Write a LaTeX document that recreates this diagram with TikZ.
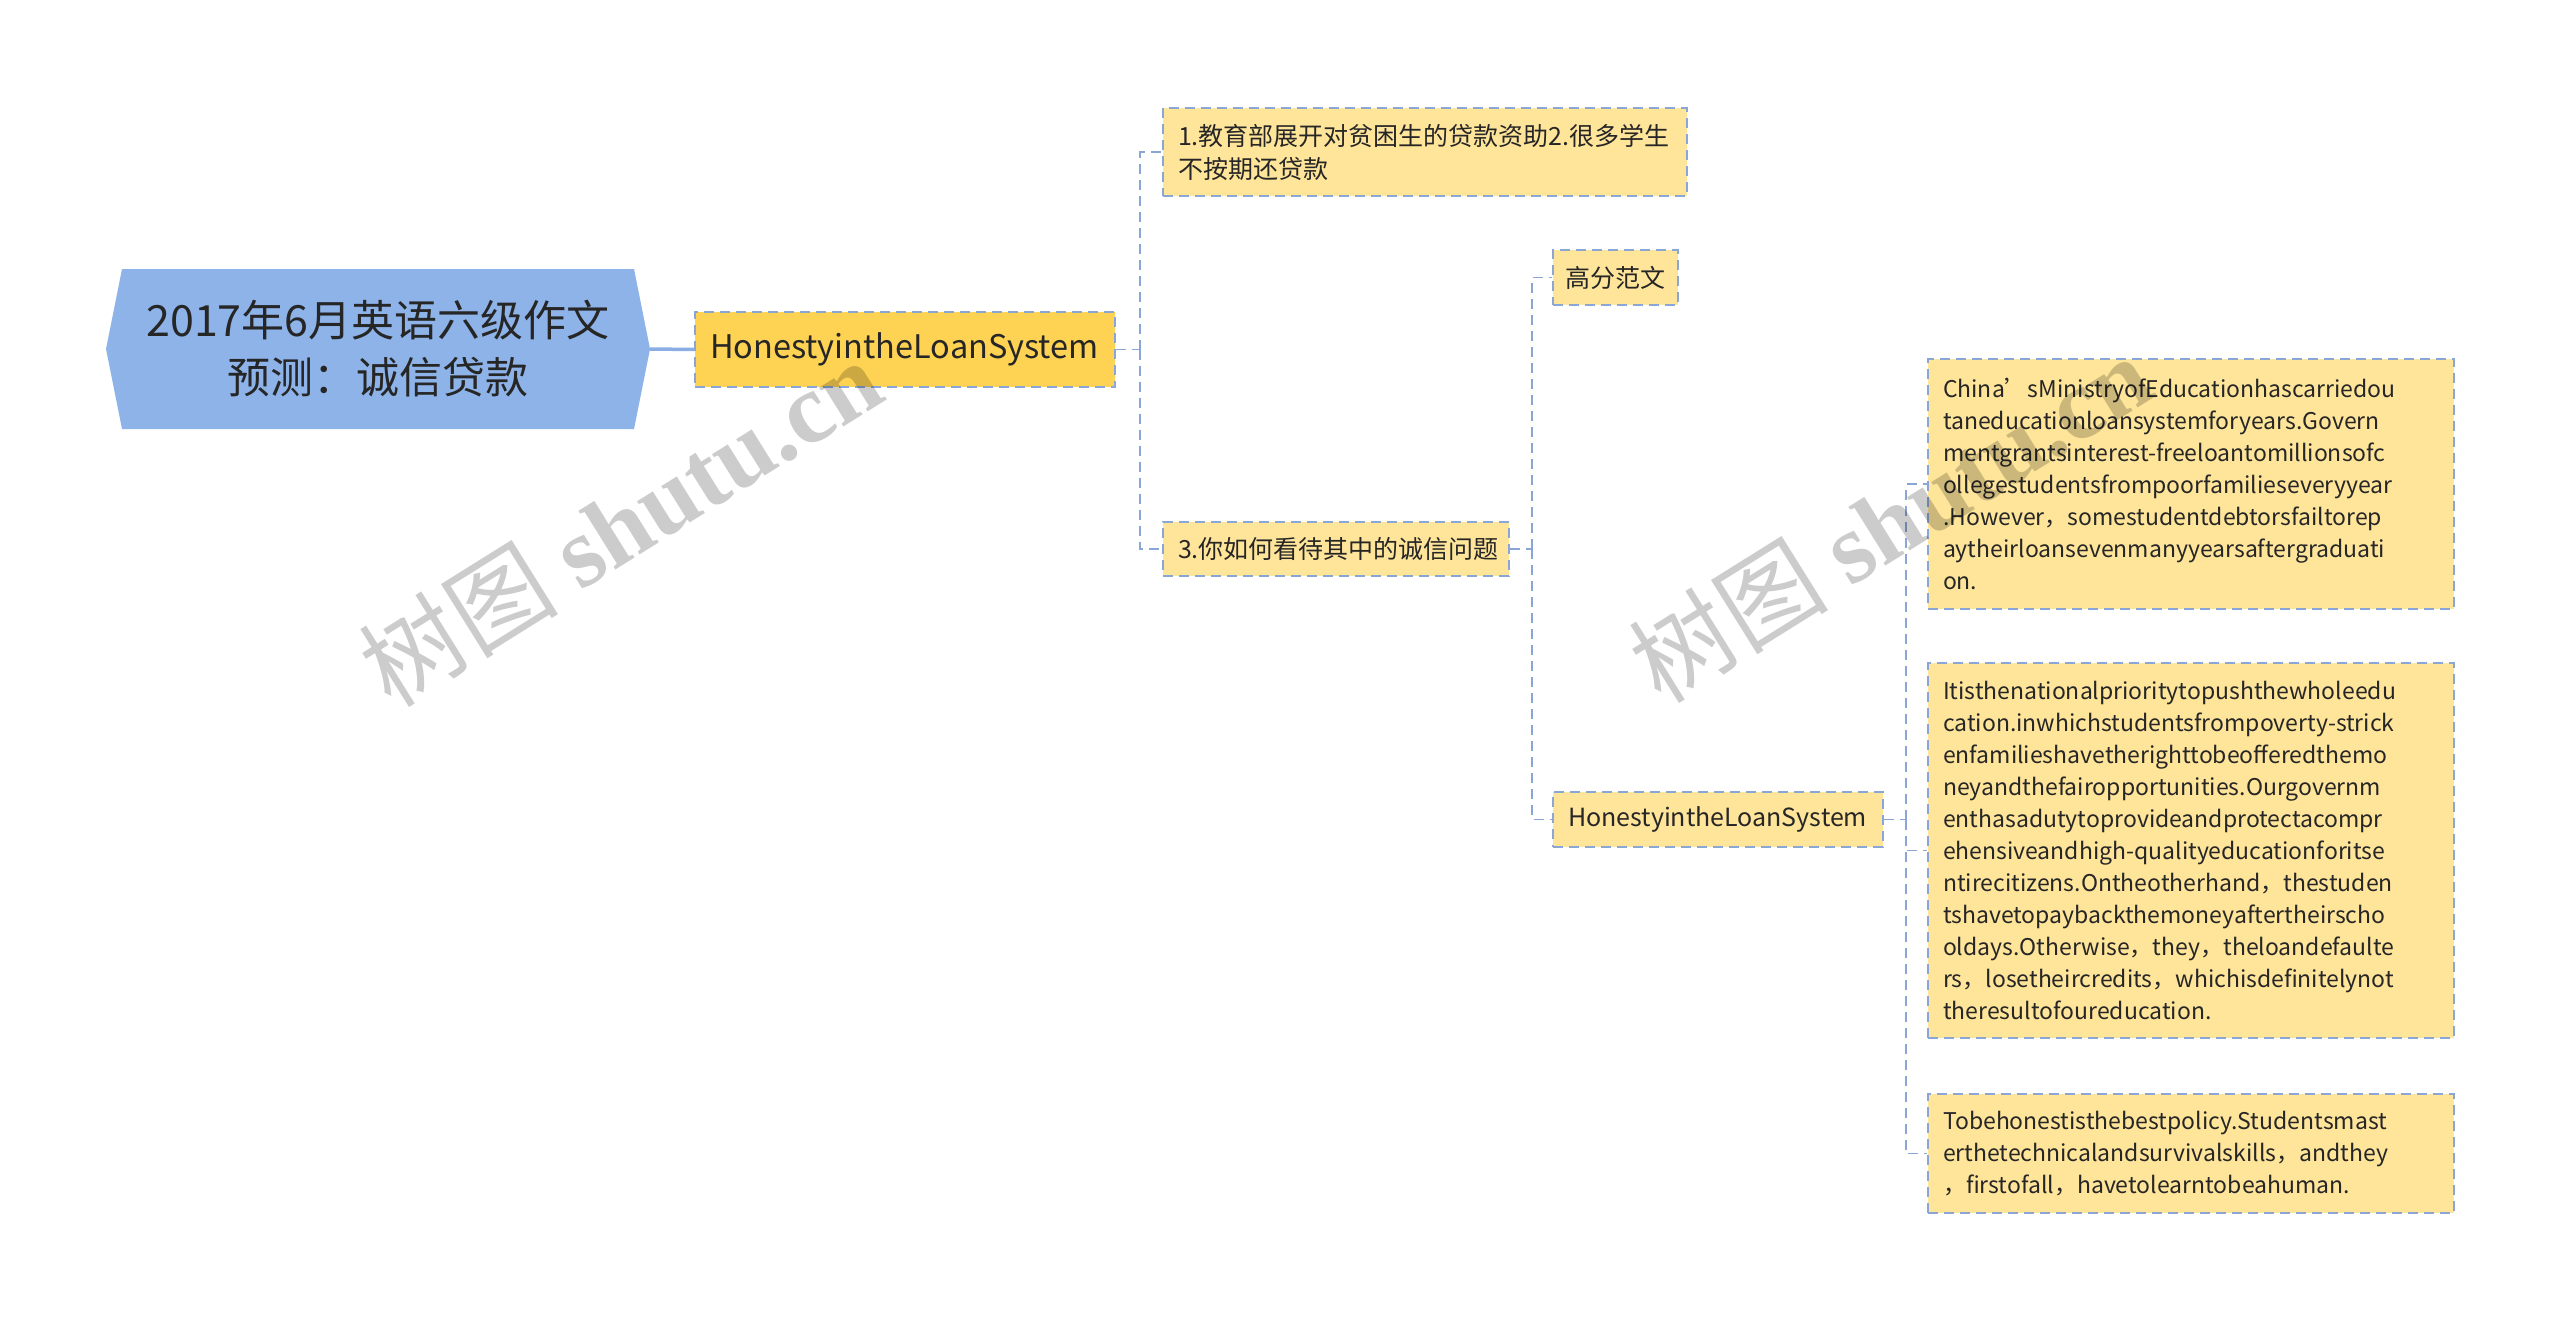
\documentclass[tikz,border=0pt]{standalone}
\usepackage{fontspec}
\setmainfont{Noto Sans CJK SC}
\newfontfamily\wmlatin{Liberation Serif}
\hyphenpenalty=10000
\exhyphenpenalty=10000
\definecolor{rootc}{HTML}{8DB3E8}
\definecolor{rootline}{HTML}{8AAEE4}
\definecolor{mainc}{HTML}{FED253}
\definecolor{leafc}{HTML}{FFE59A}
\definecolor{edgec}{HTML}{8AA6D6}
\definecolor{txtc}{HTML}{262626}
\begin{document}
\begin{tikzpicture}[x=1pt,y=-1pt,
  leaf/.style={draw=edgec, dash pattern=on 10pt off 6pt, line width=1.6pt,
    fill=leafc, text=txtc, inner xsep=15pt, inner ysep=0pt,
    font=\fontsize{23}{32}\selectfont, align=left},
  midleaf/.style={leaf, font=\fontsize{25}{33}\selectfont},
  mainn/.style={leaf, fill=mainc, font=\fontsize{32.5}{38}\selectfont},
  rootn/.style={text=txtc, align=center, inner sep=0pt,
    font=\fontsize{43}{57}\selectfont, minimum width=544pt, minimum height=160pt},
  conn/.style={draw=edgec, dash pattern=on 10pt off 6pt, line width=1.6pt},
  rootconn/.style={draw=rootline, line width=3.5pt},
  wm/.style={text=black, text opacity=0.2, rotate=32, inner sep=0pt,
    font=\fontsize{100}{100}\selectfont}
]
\useasboundingbox[fill=white] (0,0) rectangle (2560,1322);

% root hexagon
\fill[rootc] (106,349) -- (122,269) -- (634,269) -- (650,349) -- (634,429) -- (122,429) -- cycle;
\node[rootn] (root) at (378,349) {2017年6月英语六级作文\\预测：诚信贷款};

% main node
\node[mainn, text width=390pt, minimum height=75pt] (main) at (905,349.5) {HonestyintheLoanSystem};

% level 2
\node[midleaf, text width=494pt, minimum height=88pt] (n1) at (1425,152)
  {1.教育部展开对贫困生的贷款资助2.很多学生\\不按期还贷款};
\node[midleaf, text width=316pt, minimum height=54pt] (n3) at (1336,549)
  {3.你如何看待其中的诚信问题};

% level 3
\node[midleaf, inner xsep=12pt, text width=101pt, minimum height=55pt] (gf) at (1615.5,277.5) {高分范文};
\node[midleaf, text width=300pt, minimum height=55pt] (hl) at (1718,819.5) {HonestyintheLoanSystem};

% level 4
\node[leaf, text width=496pt, minimum height=250pt] (ta) at (2191,484)
  {China’sMinistryofEducationhascarriedou\\
   taneducationloansystemforyears.Govern\\
   mentgrantsinterest-freeloantomillionsofc\\
   ollegestudentsfrompoorfamilieseveryyear\\
   .However，somestudentdebtorsfailtorep\\
   aytheirloansevenmanyyearsaftergraduati\\
   on.};
\node[leaf, text width=496pt, minimum height=375pt] (tb) at (2191,850.5)
  {Itisthenationalprioritytopushthewholeedu\\
   cation.inwhichstudentsfrompoverty-strick\\
   enfamilieshavetherighttobeofferedthemo\\
   neyandthefairopportunities.Ourgovernm\\
   enthasadutytoprovideandprotectacompr\\
   ehensiveandhigh-qualityeducationforitse\\
   ntirecitizens.Ontheotherhand，thestuden\\
   tshavetopaybackthemoneyaftertheirscho\\
   oldays.Otherwise，they，theloandefaulte\\
   rs，losetheircredits，whichisdefinitelynot\\
   theresultofoureducation.};
\node[leaf, text width=496pt, minimum height=119pt] (tc) at (2191,1153.5)
  {Tobehonestisthebestpolicy.Studentsmast\\
   erthetechnicalandsurvivalskills，andthey\\
   ，firstofall，havetolearntobeahuman.};

% connectors
\draw[rootconn] (root.east) -- (main.west);

\coordinate (s1) at (1140,349.5);
\draw[conn] (main.east) -- (s1);
\draw[conn] (s1) |- (n1.west);
\draw[conn] (s1) |- (n3.west);

\coordinate (s2) at (1532,549);
\draw[conn] (n3.east) -- (s2);
\draw[conn] (s2) |- (gf.west);
\draw[conn] (s2) |- (hl.west);

\coordinate (s3) at (1906,819.5);
\draw[conn] (hl.east) -- (s3);
\draw[conn] (s3) |- (ta.west);
\draw[conn] (s3) |- (tb.west);
\draw[conn] (s3) |- (tc.west);

% watermarks
\node[wm] (wm1) at (620,522) {树图 {\wmlatin\bfseries shutu.cn}};
\node[wm] (wm2) at (1890,518) {树图 {\wmlatin\bfseries shutu.cn}};
\end{tikzpicture}
\end{document}
